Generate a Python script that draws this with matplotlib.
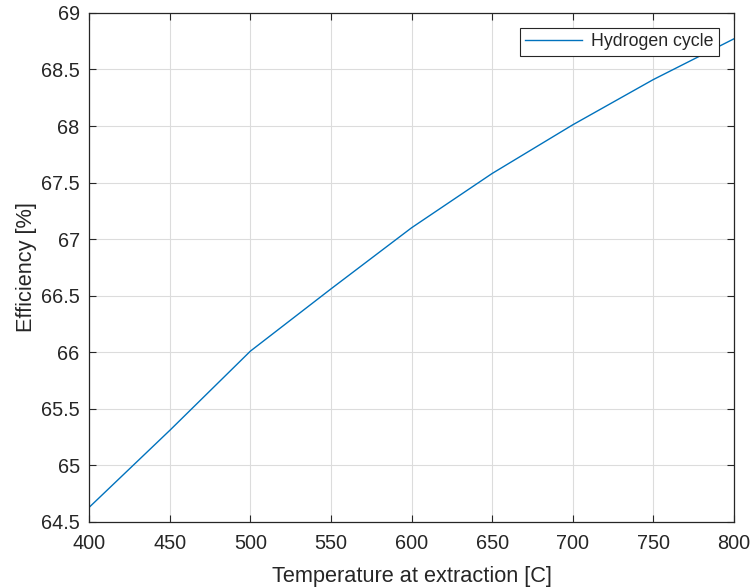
import matplotlib
matplotlib.use("Agg")
import matplotlib.pyplot as plt

temperature = [400, 450, 500, 550, 600, 650, 700, 750, 800]
efficiency = [64.63, 65.31, 66.01, 66.56, 67.10, 67.58, 68.01, 68.41, 68.77]

plt.rcParams['font.family'] = ['Liberation Sans', 'DejaVu Sans']
dark = '#262626'

fig = plt.figure(figsize=(7.51, 5.87), dpi=100)
ax = fig.add_axes([0.119, 0.111, 0.858, 0.867])

ax.plot(temperature, efficiency, color='#0072BD', linewidth=1.0, label='Hydrogen cycle')

ax.set_xlim(400, 800)
ax.set_ylim(64.5, 69)
ax.set_xticks(range(400, 801, 50))
ax.set_yticks([64.5, 65, 65.5, 66, 66.5, 67, 67.5, 68, 68.5, 69])
ax.set_yticklabels(['64.5', '65', '65.5', '66', '66.5', '67', '67.5', '68', '68.5', '69'])

ax.grid(True, color='#dcdcdc', linewidth=0.8)
ax.tick_params(direction='in', top=True, right=True, length=5, width=0.8,
               colors=dark, labelsize=14.3)
ax.tick_params(axis='x', pad=9)
ax.tick_params(axis='y', pad=7)
for s in ax.spines.values():
    s.set_color(dark)
    s.set_linewidth(0.9)

ax.set_xlabel('Temperature at extraction [C]', fontsize=15.7, color=dark, labelpad=9)
ax.set_ylabel('Efficiency [%]', fontsize=15.7, color=dark, labelpad=3)

leg = ax.legend(loc='upper right', fontsize=12.8, fancybox=False, framealpha=1,
                edgecolor=dark, borderaxespad=0.85, handlelength=3.2,
                borderpad=0.3, handletextpad=0.5)
leg.get_frame().set_linewidth(0.8)
for t in leg.get_texts():
    t.set_color(dark)

fig.savefig('out.png', dpi=100)
